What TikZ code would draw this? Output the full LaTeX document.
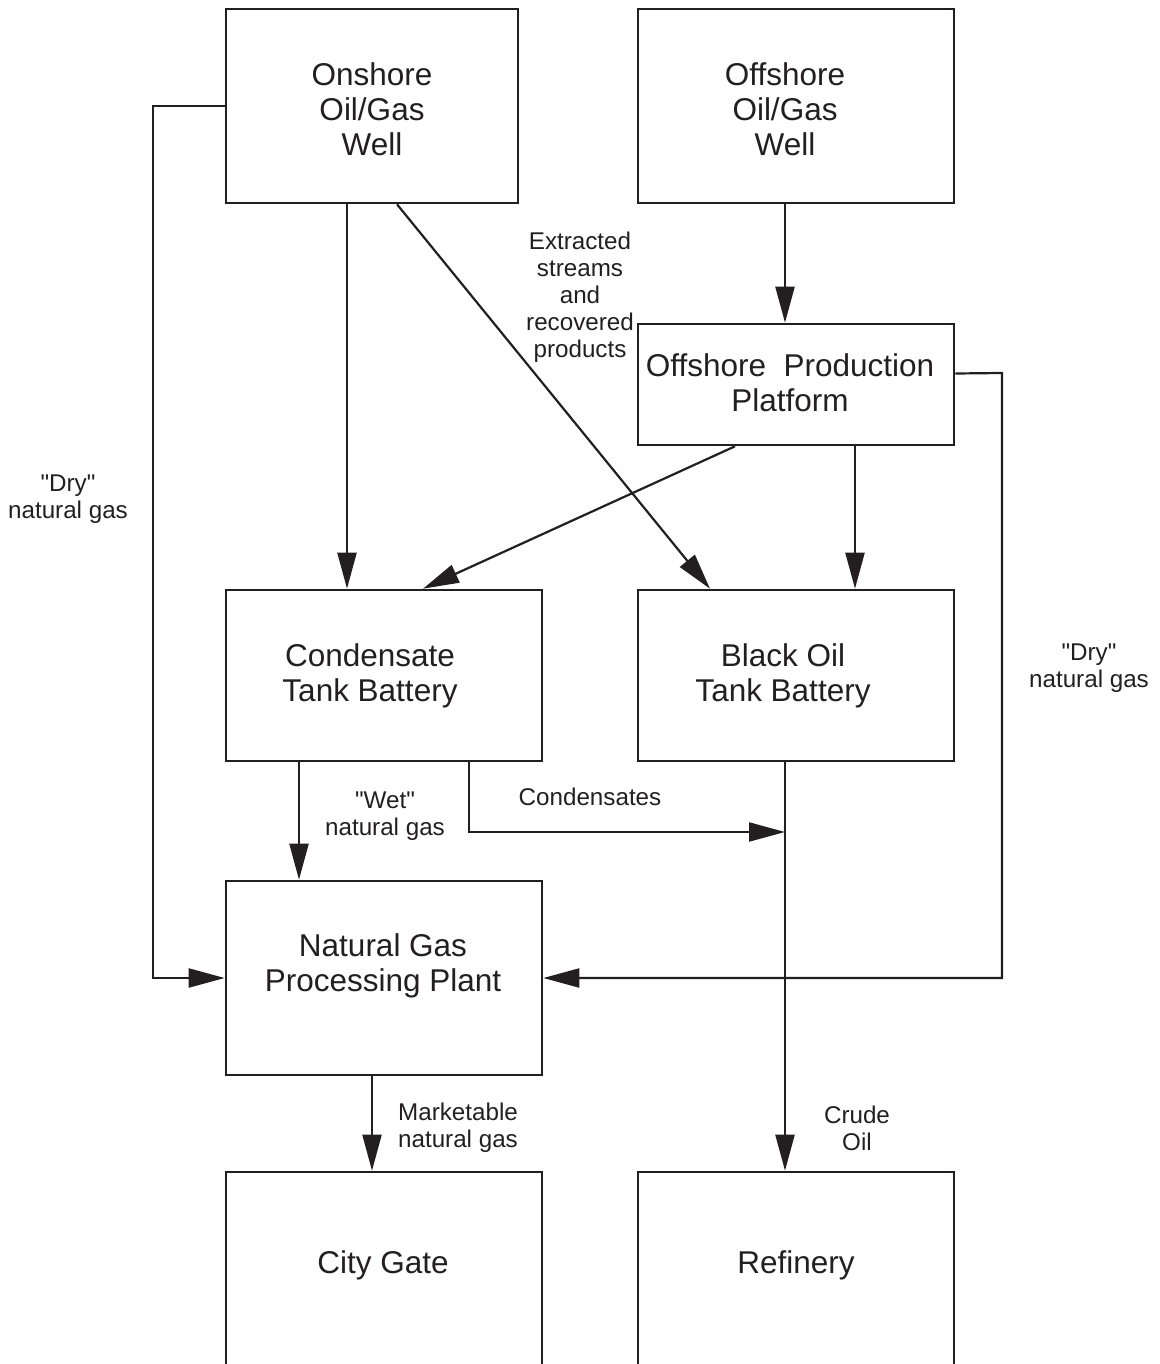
\documentclass[tikz,border=0pt]{standalone}
\usepackage{fontspec}
\setmainfont{Liberation Sans}[Ligatures=TeXOff]
\usetikzlibrary{arrows.meta}
\definecolor{ink}{RGB}{35,31,32}
\begin{document}
\begin{tikzpicture}[x=1pt,y=-1pt,
  box/.style={draw=ink,line width=2.6pt,minimum width=316pt,inner sep=0pt},
  big/.style={text=ink,align=center,font=\fontsize{31.5}{35}\selectfont,inner sep=0pt},
  small/.style={text=ink,align=center,font=\fontsize{24.2}{27}\selectfont,inner sep=0pt},
  conn/.style={draw=ink,line width=2.2pt},
  arr/.style={conn,-{Triangle[length=36pt,width=19pt]}}]
\useasboundingbox (0,0) rectangle (1159,1364);
\clip (0,0) rectangle (1159,1364);
% boxes
\node[box,minimum width=292pt,minimum height=194pt] (on) at (372,106) {};
\node[box,minimum height=194pt] (ow) at (796,106) {};
\node[box,minimum height=121pt] (plat) at (796,384.5) {};
\node[box,minimum height=171pt] (cond) at (384,675.5) {};
\node[box,minimum height=171pt] (bo) at (796,675.5) {};
\node[box,minimum height=194pt] (ngpp) at (384,978) {};
\node[box,minimum height=260pt] (city) at (384,1302) {};
\node[box,minimum height=260pt] (ref) at (796,1302) {};
% box texts
\node[big] (ont) at (372,109) {Onshore\\Oil/Gas\\Well};
\node[big] (owt) at (785,109) {Offshore\\Oil/Gas\\Well};
\node[big] (platt) at (790,383) {Offshore\ \ Production\\Platform};
\node[big] (condt) at (370,676) {Condensate\\Tank Battery};
\node[big] (bot) at (783,676) {Black Oil\\Tank Battery};
\node[big] (ngppt) at (383,966) {Natural Gas\\Processing Plant};
\node[big] (cityt) at (383,1265) {City Gate};
\node[big] (reft) at (796,1265) {Refinery};
% labels
\node[small] (lext) at (580,297) {Extracted\\streams\\and\\recovered\\products};
\node[small] (ldryl) at (68,499) {"Dry"\\natural gas};
\node[small] (ldryr) at (1089,668) {"Dry"\\natural gas};
\node[small] (lwet) at (385,816) {"Wet"\\natural gas};
\node[small] (lcond) at (590,797) {Condensates};
\node[small] (lmkt) at (458,1128) {Marketable\\natural gas};
\node[small] (lcrude) at (857,1128) {Crude\\Oil};
% helper coordinates
\coordinate (ldry) at (153,106);
\coordinate (rdry) at (1002,373);
\coordinate (cjoin) at (785,832);
% connectors
\draw[arr] (on.west) -- (ldry) |- (ngpp.west);
\draw[arr] ([yshift=11pt]plat.east) -- (rdry) |- (ngpp.east);
\draw[arr] ([xshift=-25pt]on.south) -- ([xshift=-25pt]on.south |- cond.north);
\draw[arr] ([xshift=25pt]on.south) -- ([xshift=-86pt]bo.north);
\draw[arr] ([xshift=-11pt]ow.south) -- ([xshift=-11pt]ow.south |- plat.north);
\draw[arr] ([xshift=-61pt]plat.south) -- ([xshift=39pt]cond.north);
\draw[arr] ([xshift=59pt]plat.south) -- ([xshift=59pt]plat.south |- bo.north);
\draw[arr] ([xshift=-85pt]cond.south) -- ([xshift=-85pt]cond.south |- ngpp.north);
\draw[arr] ([xshift=85pt]cond.south) |- (cjoin);
\draw[arr] ([xshift=-11pt]bo.south) -- ([xshift=-11pt]bo.south |- ref.north);
\draw[arr] ([xshift=-12pt]ngpp.south) -- ([xshift=-12pt]ngpp.south |- city.north);
\end{tikzpicture}
\end{document}
